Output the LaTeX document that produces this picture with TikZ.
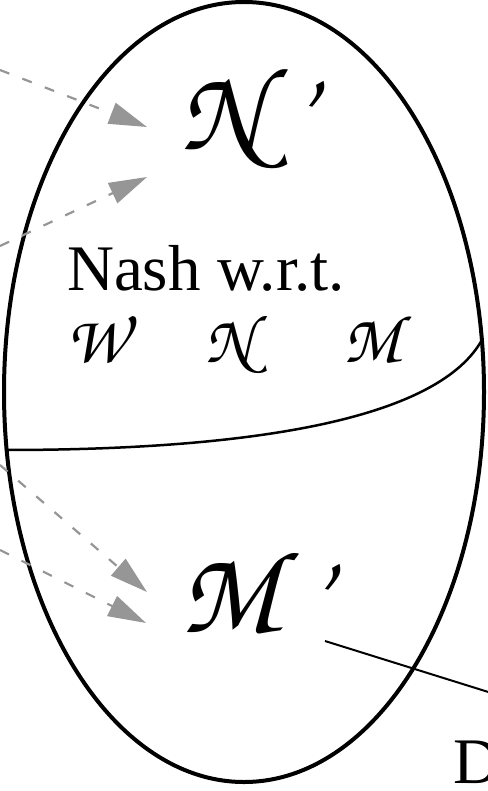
\documentclass[tikz,border=0pt]{standalone}
\usepackage{fontspec}
\setmainfont{Liberation Serif}
\usepackage{tikz}
\usetikzlibrary{arrows.meta}
\definecolor{flowgray}{HTML}{969696}
\newcommand{\chanc}{\fontencoding{OT1}\fontfamily{pzc}\fontseries{mb}\fontshape{it}\selectfont}

\begin{document}
\begin{tikzpicture}[x=1pt,y=-1pt,>=Latex,
    flow/.style={draw=flowgray,line width=2.2pt,dash pattern=on 10pt off 14pt,
        -{Triangle[length=38pt,width=22pt,fill=flowgray]}},
    lbl/.style={anchor=base west,inner sep=0pt}]
    \useasboundingbox (0,0) rectangle (487,791);
    \draw[line width=4pt] (244,392) ellipse [x radius=240pt,y radius=390pt];
    \draw[line width=2.5pt] (5,450) .. controls (250,450) and (440,420) .. (483,338);
    % labels
    \node[lbl,font=\chanc\fontsize{118}{118}\selectfont] (nprime) at (180,150) {N\,'};
    \node[lbl,font=\fontsize{65}{65}\selectfont] (nash) at (67,290) {Nash w.r.t.};
    \node[lbl,font=\chanc\fontsize{68}{68}\selectfont] (wset) at (66,362) {W};
    \node[lbl,font=\chanc\fontsize{68}{68}\selectfont] (nset) at (205,362) {N};
    \node[lbl,font=\chanc\fontsize{68}{68}\selectfont] (mset) at (343,362) {M};
    \node[lbl,font=\chanc\fontsize{118}{118}\selectfont] (mprime) at (180,632) {M\,'};
    \node[lbl,font=\fontsize{65}{65}\selectfont] (dlbl) at (453,783) {D};
    % incoming arrows
    \foreach \i/\sx/\sy/\tx/\ty in {1/0/70/147/127,2/0/246/147/177,3/0/465/147/592,4/0/550/146/623}
    {
        \coordinate (src\i) at (\sx,\sy);
        \coordinate (tip\i) at (\tx,\ty);
        \draw[flow] (src\i) -- (tip\i);
    }
    \coordinate (mtail) at (325,641);
    \coordinate (dhead) at (530,705);
    \draw[line width=2pt] (mtail) -- (dhead);
\end{tikzpicture}
\end{document}
